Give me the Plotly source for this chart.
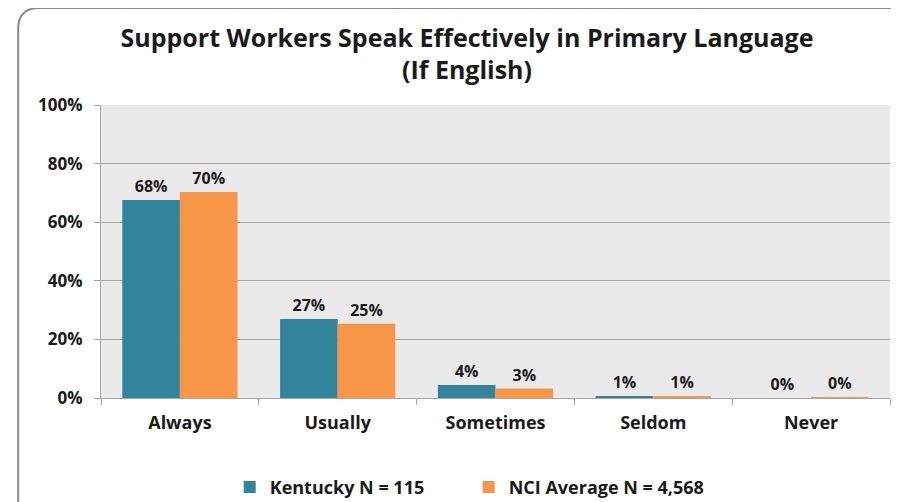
import plotly.graph_objects as go

# Data ---
categories = ['Always', 'Usually', 'Sometimes', 'Seldom', 'Never']
kentucky = [67.6, 27.0, 4.4, 0.6, 0.0]
nci_average = [70.3, 25.3, 3.2, 0.6, 0.3]
y_ticks = [0, 20, 40, 60, 80, 100]
y_tick_labels = ['0%', '20%', '40%', '60%', '80%', '100%']

teal = '#31849B'
orange = '#F79646'
grid_color = '#A6A6A6'
font_family = 'Open Sans, Lato, sans-serif'
text_color = '#1a1a1a'

fig = go.Figure()

fig.add_trace(go.Bar(x=categories, y=kentucky, name='<b>Kentucky N = 115</b>',
                     marker=dict(color=teal, line=dict(width=0)),
                     texttemplate='<b>%{y:.0f}%</b>', textposition='outside',
                     textfont=dict(size=16, color=text_color, family=font_family),
                     cliponaxis=False))
fig.add_trace(go.Bar(x=categories, y=nci_average, name='<b>NCI Average N = 4,568</b>',
                     marker=dict(color=orange, line=dict(width=0)),
                     texttemplate='<b>%{y:.0f}%</b>', textposition='outside',
                     textfont=dict(size=16, color=text_color, family=font_family),
                     cliponaxis=False))

# Rounded chart border (top-left corner visible)
fig.add_shape(type='path', xref='paper', yref='paper',
              path='M -0.105,-0.40 L -0.105,1.26 Q -0.105,1.331 -0.078,1.331 L 1.02,1.331',
              line=dict(color='#8c8c8c', width=2), layer='below')

# page body has an 8px margin, so the figure is sized to fit the window
fig.update_layout(
    width=891, height=494,
    margin=dict(l=93, r=9, t=97, b=104, autoexpand=False),
    paper_bgcolor='white',
    plot_bgcolor='#EAEAEA',
    barmode='group',
    bargap=0.27,
    bargroupgap=0,
    uniformtext=dict(minsize=15, mode='show'),
    font=dict(family=font_family, color=text_color),
    title=dict(text='<b>Support Workers Speak Effectively in Primary Language<br>(If English)</b>',
               x=459 / 891, xanchor='center', xref='container',
               y=0.922, yanchor='middle', yref='container',
               font=dict(size=25, family=font_family, color=text_color)),
    legend=dict(orientation='h', x=0.466, xanchor='center', xref='paper',
                y=0.03, yanchor='middle', yref='container',
                font=dict(size=18, family=font_family, color=text_color),
                itemwidth=30, entrywidth=194, traceorder='normal'),
    showlegend=True,
)

fig.update_xaxes(showline=True, linecolor=grid_color, linewidth=1,
                 ticks='outside', tickson='boundaries', ticklen=6, tickcolor=grid_color,
                 tickfont=dict(size=18, family=font_family, color=text_color),
                 tickprefix='<b>', ticksuffix='</b>', ticklabelstandoff=8, tickangle=0)
fig.update_yaxes(range=[0, 100], tickvals=y_ticks, ticktext=['<b>%s</b>' % t for t in y_tick_labels],
                 showline=True, linecolor=grid_color, linewidth=1,
                 showgrid=True, gridcolor=grid_color, gridwidth=1,
                 ticks='outside', ticklen=6, tickcolor=grid_color,
                 tickfont=dict(size=17, family=font_family, color=text_color),
                 ticklabelstandoff=8, zeroline=False)

fig.write_html('out.html')
